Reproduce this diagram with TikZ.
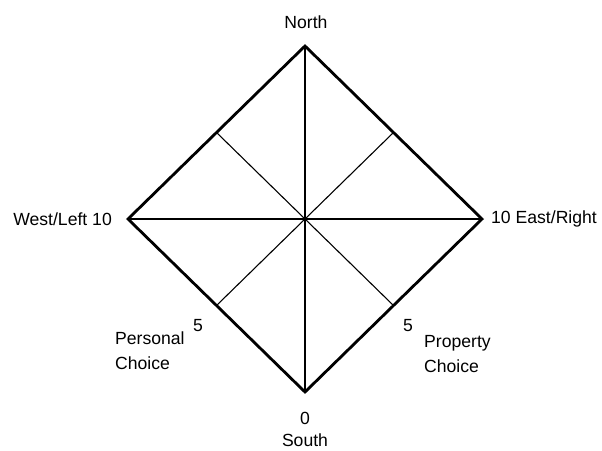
\documentclass[tikz,border=0pt]{standalone}
\usepackage{fontspec}
\setmainfont{Liberation Sans}
\begin{document}
\begin{tikzpicture}[x=1pt,y=-1pt,
  lbl/.style={inner sep=0pt,font=\fontsize{17.6}{25}\selectfont},
  outer/.style={line width=2.8pt,line join=miter},
  inner/.style={line width=1.1pt}]
\useasboundingbox[fill=white] (0,0) rectangle (602,450);
\coordinate (N) at (305,46);
\coordinate (E) at (482,219);
\coordinate (S) at (305,392);
\coordinate (W) at (128,219);
\coordinate (NW) at (216.5,132.5);
\coordinate (NE) at (393.5,132.5);
\coordinate (SW) at (216.5,305.5);
\coordinate (SE) at (393.5,305.5);
\draw[inner] (N) -- (S);
\draw[inner] (W) -- (E);
\draw[inner] (NW) -- (SE);
\draw[inner] (NE) -- (SW);
\draw[outer] (N) -- (E) -- (S) -- (W) -- cycle;
\node[lbl] (north) at (306,22) {North};
\node[lbl,anchor=east] (west) at (112,219) {West/Left 10};
\node[lbl,anchor=west] (east) at (491,219) {10 East/Right};
\node[lbl] (five1) at (198,326) {5};
\node[lbl] (five2) at (408,326) {5};
\node[lbl,align=left,anchor=west] (pers) at (115,350.5) {Personal\\Choice};
\node[lbl,align=left,anchor=west] (prop) at (424,354) {Property\\Choice};
\node[lbl] (zero) at (305,418) {0};
\node[lbl] (south) at (305,440) {South};
\end{tikzpicture}
\end{document}
